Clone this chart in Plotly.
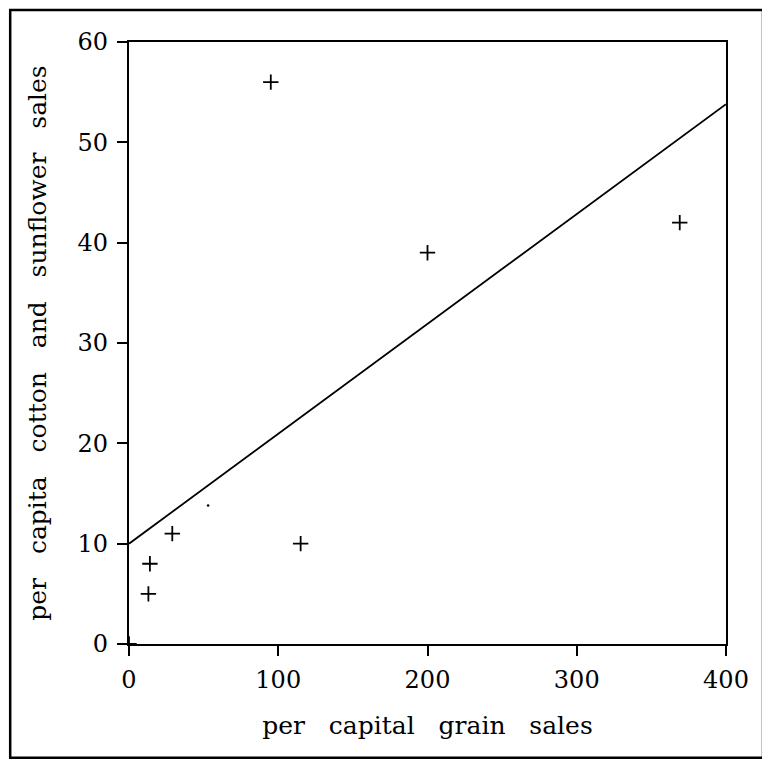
import plotly.graph_objects as go

# data
grain_sales = [0, 14, 13, 29, 95, 115, 200, 369]
cotton_sunflower = [0, 8, 5, 11, 56, 10, 39, 42]
dot_x = [53]
dot_y = [13.8]
fit_x = [0, 400]
fit_y = [10.0, 53.8]
x_ticks = [0, 100, 200, 300, 400]
y_ticks = [0, 10, 20, 30, 40, 50, 60]

GAP = "\u00a0" * 3
x_title = GAP.join(["per", "capital", "grain", "sales"])
y_title = GAP.join(["per", "capita", "cotton", "and", "sunflower", "sales"])

font = dict(family="DejaVu Serif", color="black")

fig = go.Figure()
fig.add_trace(go.Scatter(x=fit_x, y=fit_y, mode="lines",
                         line=dict(color="black", width=1.8),
                         showlegend=False, hoverinfo="skip"))
fig.add_trace(go.Scatter(x=grain_sales, y=cotton_sunflower, mode="markers",
                         marker=dict(symbol="cross-thin", size=11,
                                     line=dict(color="black", width=1.8)),
                         cliponaxis=False, showlegend=False))
fig.add_trace(go.Scatter(x=dot_x, y=dot_y, mode="markers",
                         marker=dict(symbol="circle", size=2.5, color="black"),
                         showlegend=False))

axis_common = dict(showline=True, linecolor="black", linewidth=2.2, mirror=True,
                   ticks="outside", ticklen=10, tickwidth=1.8, tickcolor="black",
                   showgrid=False, zeroline=False,
                   tickfont=dict(size=24, **font))

fig.update_xaxes(range=[0, 400], tickvals=x_ticks, ticklabelstandoff=3,
                 title=dict(text=x_title, font=dict(size=25, **font), standoff=24),
                 **axis_common)
fig.update_yaxes(range=[0, 60], tickvals=y_ticks, ticklabelstandoff=4,
                 title=dict(text=y_title, font=dict(size=25, **font), standoff=24),
                 **axis_common)

# outer frame around the whole figure
fig.add_shape(type="rect", xref="paper", yref="paper",
              x0=-0.199, x1=1.062, y0=-0.189, y1=1.053,
              line=dict(color="black", width=2.5))

fig.update_layout(width=762, height=752,
                  margin=dict(l=121, r=44, t=34, b=116),
                  paper_bgcolor="white", plot_bgcolor="white",
                  font=font)

fig.write_html("out.html")
